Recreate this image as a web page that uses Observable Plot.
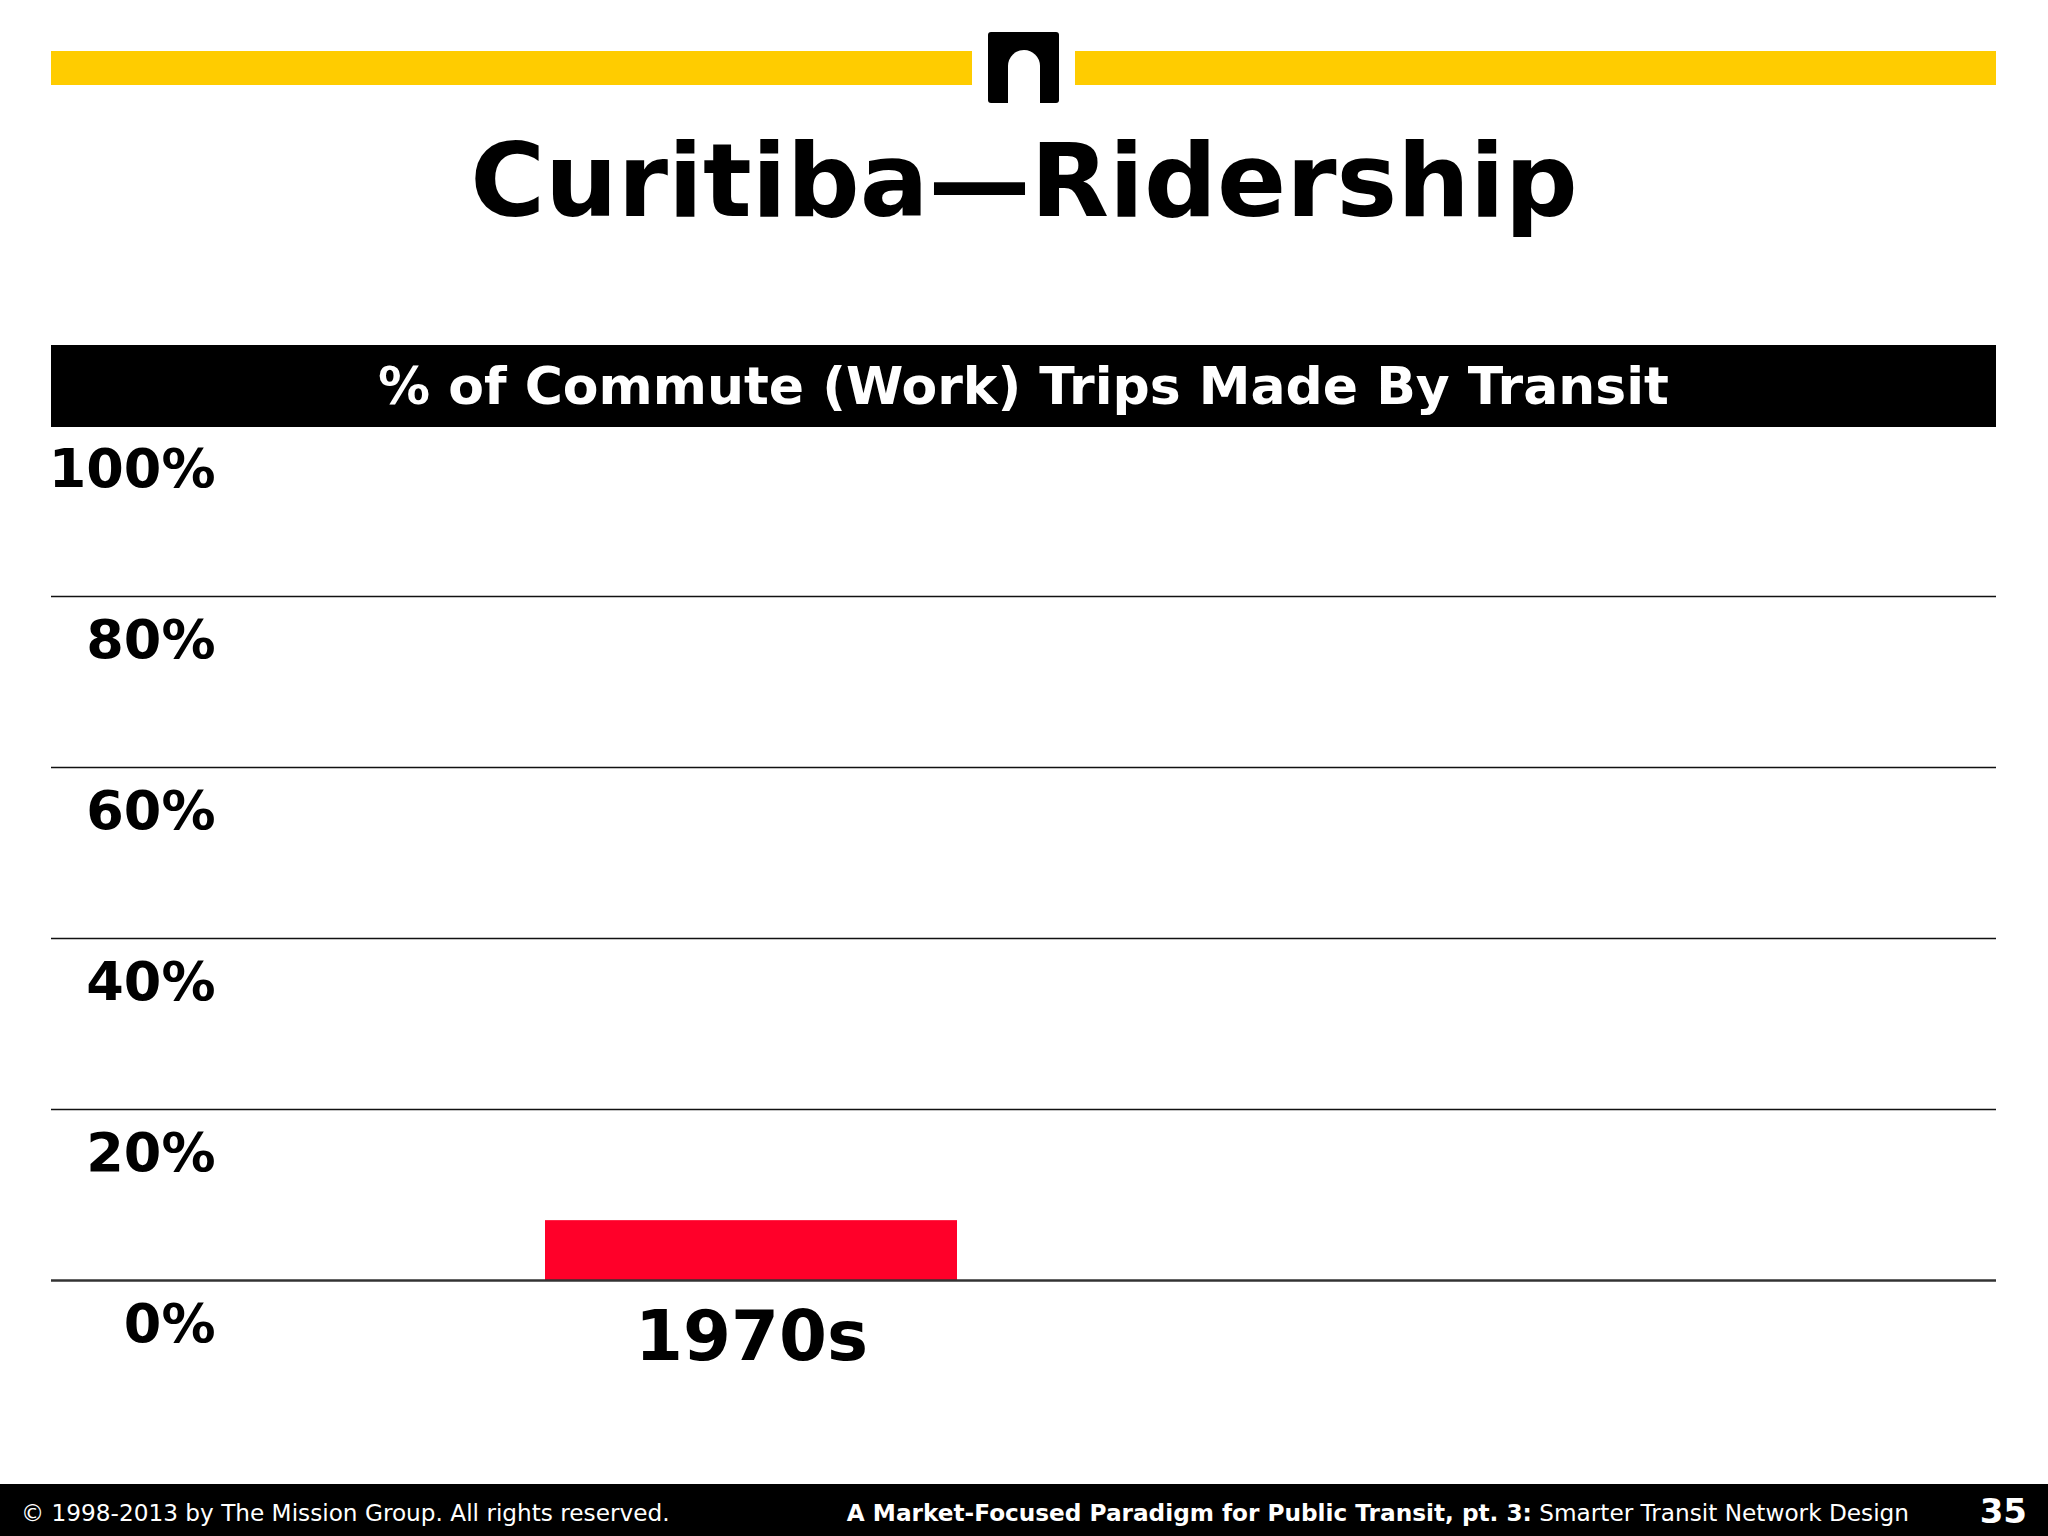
<!DOCTYPE html>
<html>
<head>
<meta charset="utf-8">
<script src="https://cdn.jsdelivr.net/npm/d3@7"></script>
<script src="https://cdn.jsdelivr.net/npm/@observablehq/plot@0.6"></script>
<style>
  html, body { margin: 0; padding: 0; background: #fff; }
  #page { position: relative; width: 2048px; height: 1536px; overflow: hidden; background: #fff; font-family: "DejaVu Sans", Verdana, sans-serif; }
  .ybar { position: absolute; top: 51px; height: 34px; background: #FFCC00; }
  #logo { position: absolute; left: 988px; top: 32px; width: 71px; height: 71px; background: #000; border-radius: 3px; }
  #logo .arch { position: absolute; left: 20px; top: 18px; width: 32px; height: 53px; background: #fff; border-radius: 16px 16px 0 0; }
  #title { position: absolute; left: 0; width: 2048px; top: 120px; text-align: center; font-weight: bold; font-size: 102px; line-height: 1.2; color: #000; }
  #band { position: absolute; left: 51px; top: 345px; width: 1945px; height: 82px; background: #000; color: #fff; font-weight: bold; font-size: 52px; line-height: 82px; text-align: center; }
  #chart { position: absolute; left: 0; top: 400px; }
  #footer { position: absolute; left: 0; top: 1484px; width: 2048px; height: 52px; background: #000; color: #fff; font-size: 23.2px; }
  #footer .l { position: absolute; left: 21px; top: 15px; }
  #footer .r { position: absolute; right: 139px; top: 15px; }
  #footer .n { position: absolute; right: 21px; top: 7px; font-weight: bold; font-size: 34px; }
</style>
</head>
<body>
<div id="page">
  <div class="ybar" style="left:51px;width:921px;"></div>
  <div class="ybar" style="left:1075px;width:921px;"></div>
  <div id="logo"><div class="arch"></div></div>
  <div id="title">Curitiba—Ridership</div>
  <div id="band">% of Commute (Work) Trips Made By Transit</div>
  <div id="chart"></div>
  <div id="footer">
    <span class="l">© 1998-2013 by The Mission Group. All rights reserved.</span>
    <span class="r"><b>A Market-Focused Paradigm for Public Transit, pt. 3:</b> Smarter Transit Network Design</span>
    <span class="n">35</span>
  </div>
</div>
<script>
const categories = ["1970s"];
const shares = [7];
const yTicks = [0, 20, 40, 60, 80, 100];
const gridTicks = [20, 40, 60, 80];

const data = categories.map((c, i) => ({decade: c, share: shares[i]}));

const chart = Plot.plot({
  width: 2048,
  height: 1080,
  marginTop: 25,
  marginBottom: 200,
  marginLeft: 51,
  marginRight: 52,
  style: {fontFamily: "'DejaVu Sans', Verdana, sans-serif", background: "transparent", overflow: "visible"},
  x: {domain: categories, range: [545, 957], padding: 0},
  y: {domain: [0, 100], ticks: yTicks},
  marks: [
    Plot.ruleY(gridTicks, {stroke: "#111", strokeWidth: 1.5}),
    Plot.barY(data, {x: "decade", y: "share", fill: "#FF0029"}),
    Plot.ruleY([0], {stroke: "#333", strokeWidth: 2.5}),
    Plot.axisY({ticks: yTicks, tickSize: 0, tickPadding: -164, dy: 44, tickFormat: d => d + "%", fontSize: 54, fontWeight: "bold", fill: "#000", textAnchor: "end", label: null}),
    Plot.axisX({tickSize: 0, tickPadding: 30, fontSize: 69, fontWeight: "bold", fill: "#000", label: null})
  ]
});
document.getElementById("chart").appendChild(chart);
</script>
</body>
</html>
